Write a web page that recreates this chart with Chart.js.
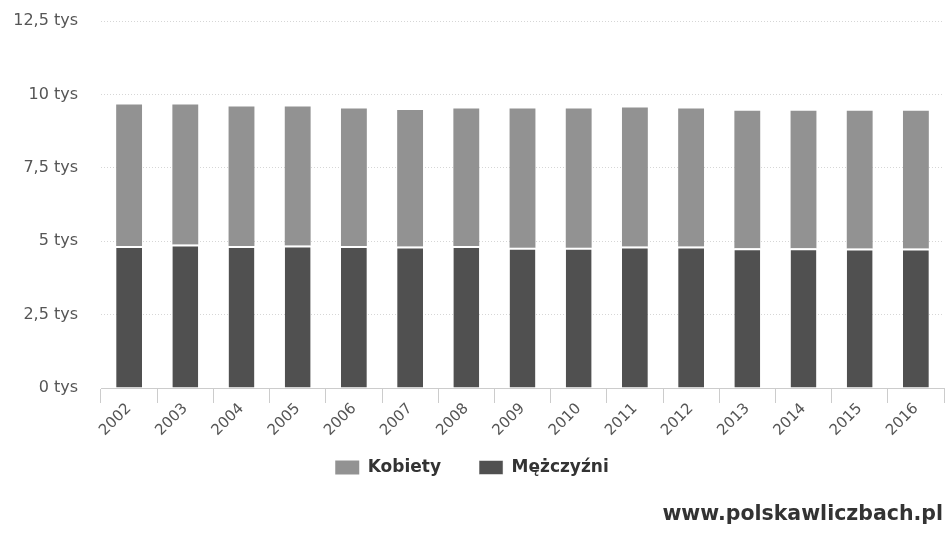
<!DOCTYPE html>
<html>
<head>
<meta charset="utf-8">
<script src="https://cdn.jsdelivr.net/npm/chart.js@4.4.1/dist/chart.umd.min.js"></script>
<style>
    html, body { margin: 0; padding: 0; background: #fff; }
    #wrap { position: relative; width: 946px; height: 533px; }
    #source {
        position: absolute; right: 3px; top: 501px;
        font-family: "DejaVu Sans", sans-serif; font-size: 20.5px; font-weight: bold; color: #333;
    }
</style>
</head>
<body>
<div id="wrap">
    <canvas id="chart" width="946" height="533"></canvas>
    <div id="source">www.polskawliczbach.pl</div>
</div>
<script>
// Years on the x axis
const years = ['2002', '2003', '2004', '2005', '2006', '2007', '2008', '2009',
    '2010', '2011', '2012', '2013', '2014', '2015', '2016'];

// Population by sex
const men = [4840, 4890, 4840, 4850, 4840, 4820, 4840, 4780, 4780, 4820, 4820, 4760, 4760, 4750, 4750];
const women = [4820, 4770, 4750, 4740, 4680, 4650, 4680, 4740, 4740, 4730, 4700, 4680, 4680, 4690, 4690];

// Y axis ticks
const yTicks = [0, 2500, 5000, 7500, 10000, 12500];

const fmtTys = (v) => String(v / 1000).replace('.', ',') + ' tys';

// the x axis box is kept short so the legend sits close; let its labels draw below it
const labelRoom = {
    id: 'labelRoom',
    afterLayout(chart) {
        chart.scales.x.bottom += 40;
    }
};

const ctx = document.getElementById('chart').getContext('2d');
new Chart(ctx, {
    type: 'bar',
    data: {
        labels: years,
        datasets: [
            {
                label: 'Mężczyźni',
                data: men,
                backgroundColor: '#505050',
                borderColor: '#ffffff',
                borderWidth: { top: 2, left: 0, right: 0, bottom: 0 },
                borderSkipped: 'bottom'
            },
            {
                label: 'Kobiety',
                data: women,
                backgroundColor: '#929292',
                borderWidth: 0
            }
        ]
    },
    plugins: [labelRoom],
    options: {
        responsive: false,
        animation: false,
        layout: { padding: { top: 21, right: 2, left: 0, bottom: 47 } },
        datasets: {
            bar: { barPercentage: 0.46, categoryPercentage: 1 }
        },
        plugins: {
            legend: {
                position: 'bottom',
                reverse: true,
                labels: {
                    boxWidth: 24,
                    boxHeight: 14,
                    padding: 38,
                    color: '#333',
                    font: { family: 'DejaVu Sans', size: 17, weight: 'bold' }
                }
            },
            tooltip: { enabled: false }
        },
        scales: {
            x: {
                stacked: true,
                offset: true,
                afterFit: (axis) => {
                    axis.paddingLeft = 0;
                    axis.paddingRight = 0;
                    axis.height = 33;
                },
                grid: {
                    offset: true,
                    drawOnChartArea: false,
                    tickLength: 15,
                    color: '#ccc'
                },
                border: { color: '#ccc', dash: [1, 1] },
                ticks: {
                    minRotation: 45,
                    maxRotation: 45,
                    padding: -3,
                    color: '#555',
                    font: { family: 'DejaVu Sans', size: 15 }
                }
            },
            y: {
                stacked: true,
                min: 0,
                max: 12500,
                afterBuildTicks: (axis) => {
                    axis.ticks = yTicks.map(v => ({ value: v }));
                },
                afterFit: (axis) => {
                    axis.width = 101;
                    axis.paddingTop = 0;
                    axis.paddingBottom = 0;
                },
                grid: {
                    color: '#d6d6d6',
                    drawTicks: false
                },
                border: { display: false, dash: [1, 2] },
                ticks: {
                    padding: 23,
                    color: '#555',
                    font: { family: 'DejaVu Sans', size: 16 },
                    callback: (v) => fmtTys(v)
                }
            }
        }
    }
});
</script>
</body>
</html>
